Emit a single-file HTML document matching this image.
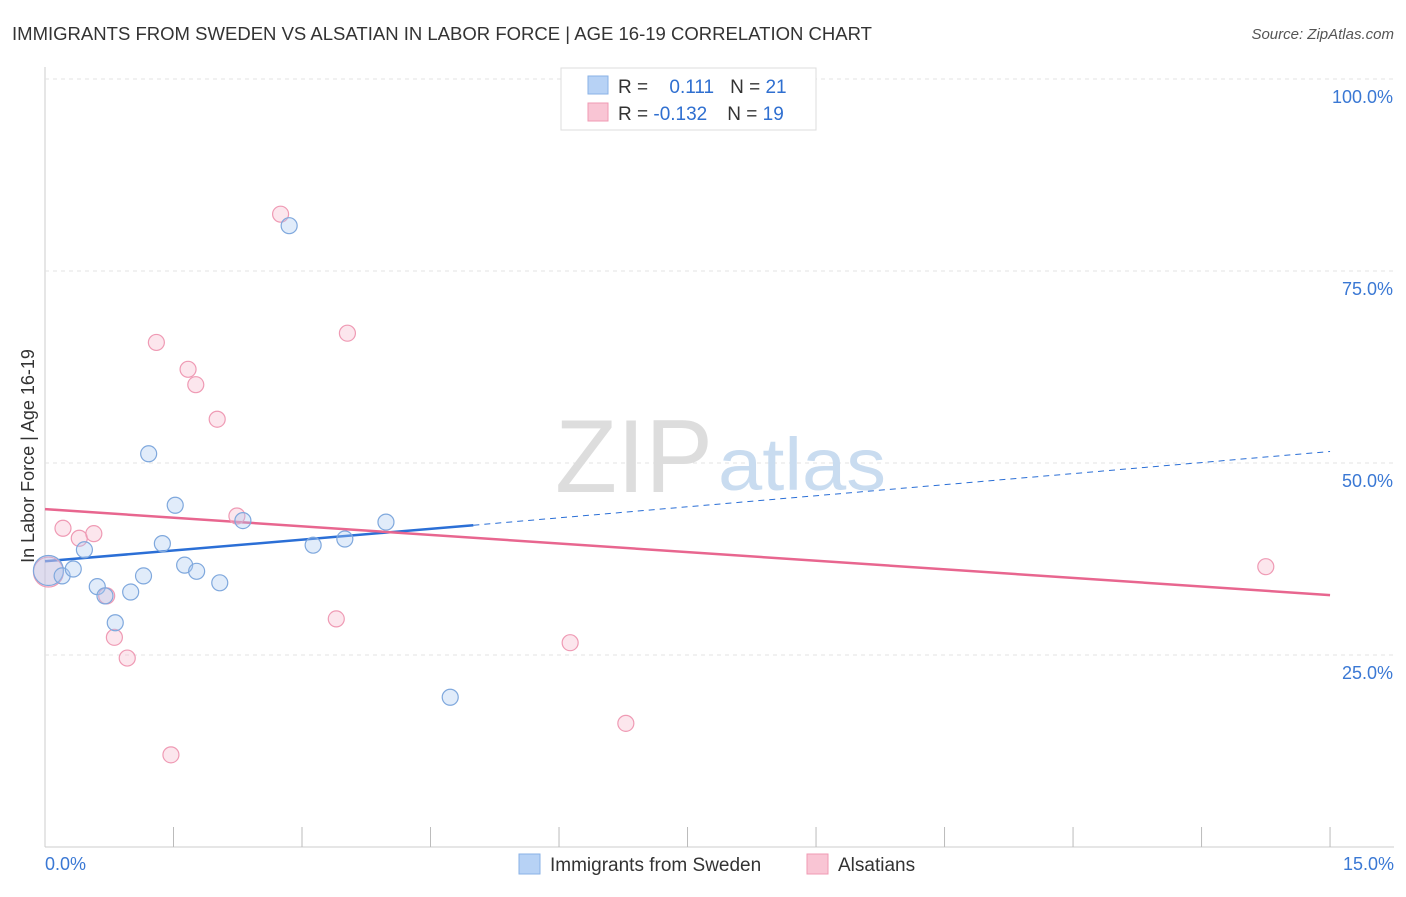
<!DOCTYPE html>
<html><head><meta charset="utf-8"><style>
body{margin:0;background:#fff;font-family:"Liberation Sans",sans-serif;}
svg text{font-family:"Liberation Sans",sans-serif;}
</style></head><body>
<svg width="1406" height="892" viewBox="0 0 1406 892">
<text x="12" y="40" font-size="18" fill="#333" textLength="860" lengthAdjust="spacingAndGlyphs">IMMIGRANTS FROM SWEDEN VS ALSATIAN IN LABOR FORCE | AGE 16-19 CORRELATION CHART</text>
<text x="1394" y="39" font-size="15" fill="#555" font-style="italic" text-anchor="end">Source: ZipAtlas.com</text>
<g id="grid"></g>
<text x="555" y="492" font-size="104" fill="#ddd" textLength="158" lengthAdjust="spacingAndGlyphs" font-family="Liberation Serif">ZIP</text>
<text x="718" y="490" font-size="74" fill="#c9dcf0" textLength="168" lengthAdjust="spacingAndGlyphs">atlas</text>
<text x="34" y="456" font-size="18" fill="#333" text-anchor="middle" transform="rotate(-90 34 456)">In Labor Force | Age 16-19</text>
<g id="lines"></g>
<g id="pts"></g>
<g>
<rect x="561" y="68" width="255" height="62" fill="#fff" stroke="#ddd"/>
<rect x="588" y="76" width="20" height="18" fill="#b7d2f5" stroke="#8ab2e6"/>
<rect x="588" y="103" width="20" height="18" fill="#f9c5d4" stroke="#f09ab3"/>
<text x="618" y="93" font-size="19" fill="#333">R = <tspan fill="#2f6fd0" dx="16">0.111</tspan><tspan dx="16" fill="#333">N = </tspan><tspan fill="#2f6fd0">21</tspan></text>
<text x="618" y="120" font-size="19" fill="#333">R = <tspan fill="#2f6fd0" dx="0">-0.132</tspan><tspan dx="20" fill="#333">N = </tspan><tspan fill="#2f6fd0">19</tspan></text>
</g>
<g>
<rect x="519" y="854" width="21" height="20" fill="#b7d2f5" stroke="#8ab2e6"/>
<text x="550" y="871" font-size="19" fill="#333">Immigrants from Sweden</text>
<rect x="807" y="854" width="21" height="20" fill="#f9c5d4" stroke="#f09ab3"/>
<text x="838" y="871" font-size="19" fill="#333">Alsatians</text>
</g>
</svg>
<script>
const yTicks=[25,50,75,100];
const xTickLabels=["0.0%","15.0%"];
const blueX=[0.04,0.2,0.33,0.46,0.61,0.7,0.82,1.0,1.15,1.21,1.37,1.52,1.63,1.77,2.04,2.31,2.85,3.13,3.5,3.98,4.73];
const blueY=[36.0,35.3,36.2,38.7,33.9,32.7,29.2,33.2,35.3,51.2,39.5,44.5,36.7,35.9,34.4,42.5,80.9,39.3,40.1,42.3,19.5];
const pinkX=[0.04,0.21,0.4,0.57,0.72,0.81,0.96,1.3,1.47,1.67,1.76,2.01,2.24,2.75,3.4,3.53,6.13,6.78,14.25];
const pinkY=[35.8,41.5,40.2,40.8,32.7,27.3,24.6,65.7,12.0,62.2,60.2,55.7,43.1,82.4,29.7,66.9,26.6,16.1,36.5];
const blueTrend=[0,37.2,5.0,41.9,15,51.5];
const pinkTrend=[0,44.0,15,32.8];
const X=v=>45+v*85.67, Y=v=>847-v*7.68;
const NS="http://www.w3.org/2000/svg";
function mk(t,a,p){const e=document.createElementNS(NS,t);for(const k in a)e.setAttribute(k,a[k]);p.appendChild(e);return e;}
const g=document.getElementById('grid');
const ax=mk('line',{x1:45,y1:67,x2:45,y2:847,stroke:'#ccc'},g);


const xa=mk('line',{x1:45,y1:847,x2:1394,y2:847,stroke:'#ccc'},g);


yTicks.forEach(t=>{
 const l=mk('line',{x1:45,x2:1394,y1:Y(t),y2:Y(t),stroke:'#e3e3e3','stroke-dasharray':'4,4'},g);
 
 
 const tx=mk('text',{x:1393,y:Y(t)+24,'font-size':18,fill:'#3a78d4','text-anchor':'end'},g);
 tx.textContent=t.toFixed(1)+'%';
 
 
});
for(let i=1;i<=10;i++){
 const x=X(i*1.5);
 const l=mk('line',{x1:x,x2:x,y1:827,y2:847,stroke:'#bbb'},g);
 
 
}
const t0=mk('text',{x:45,y:870,'font-size':18,fill:'#3a78d4'},g);t0.textContent=xTickLabels[0];


const t1=mk('text',{x:1394,y:870,'font-size':18,fill:'#3a78d4','text-anchor':'end'},g);t1.textContent=xTickLabels[1];


const L=document.getElementById('lines');
const b1=mk('line',{x1:X(blueTrend[0]),y1:Y(blueTrend[1]),x2:X(blueTrend[2]),y2:Y(blueTrend[3]),stroke:'#2b6fd6','stroke-width':2.5},L);


const b2=mk('line',{x1:X(blueTrend[2]),y1:Y(blueTrend[3]),x2:X(blueTrend[4]),y2:Y(blueTrend[5]),stroke:'#2b6fd6','stroke-width':1,'stroke-dasharray':'6,5'},L);


const p1=mk('line',{x1:X(pinkTrend[0]),y1:Y(pinkTrend[1]),x2:X(pinkTrend[2]),y2:Y(pinkTrend[3]),stroke:'#e8668f','stroke-width':2.5},L);


const P=document.getElementById('pts');
pinkX.forEach((v,i)=>{
 const c=mk('circle',{cx:X(v),cy:Y(pinkY[i]),r:i==0?15:8,fill:'rgba(247,182,202,0.35)',stroke:'#ef9ab4','stroke-width':1.2},P);
 
 
});
blueX.forEach((v,i)=>{
 const c=mk('circle',{cx:X(v),cy:Y(blueY[i]),r:i==0?15:8,fill:'rgba(170,200,240,0.35)',stroke:'#7fa8dd','stroke-width':1.2},P);
 
 
});
</script>
</body></html>
